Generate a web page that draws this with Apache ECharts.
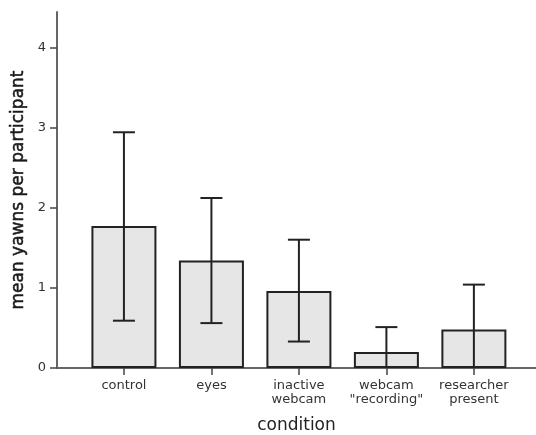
<!DOCTYPE html>
<html><head><meta charset="utf-8">
<script src="https://cdn.jsdelivr.net/npm/echarts@6/dist/echarts.min.js"></script>
<style>html,body{margin:0;padding:0;background:#fff}#c{width:536px;height:435px}</style>
</head><body><div id="c"></div>
<script>
const categories = ['control', 'eyes', 'inactive\nwebcam', 'webcam\n"recording"', 'researcher\npresent'];
const means = [1.77, 1.34, 0.96, 0.20, 0.48];
const errLow = [0.59, 0.56, 0.33, -0.11, -0.08];
const errHigh = [2.94, 2.12, 1.60, 0.51, 1.04];
const yTicks = [0, 1, 2, 3, 4];
const xPositions = categories.map((c, i) => i);

const chart = echarts.init(document.getElementById('c'));
const font = 'DejaVu Sans';
chart.setOption({
  animation: false,
  backgroundColor: '#fff',
  grid: {left: 57, right: 0, top: 12, bottom: 67, containLabel: false, outerBoundsMode: 'none'},
  xAxis: {
    type: 'value', min: -0.765, max: 4.71,
    name: 'condition', nameLocation: 'middle', nameGap: 49,
    nameTextStyle: {fontFamily: font, fontSize: 17, color: '#222'},
    axisLine: {show: true, onZero: false, lineStyle: {color: '#666', width: 2}},
    axisTick: {show: true, length: 7, lineStyle: {color: '#444', width: 1.5}, customValues: xPositions},
    axisLabel: {customValues: xPositions, fontFamily: font, fontSize: 13, color: '#333', margin: 11, lineHeight: 14,
      formatter: v => categories[Math.round(v)]},
    splitLine: {show: false}
  },
  yAxis: {
    type: 'value', min: 0, max: 4.44,
    name: 'mean yawns per participant', nameLocation: 'middle', nameGap: 27, nameRotate: 90,
    nameTextStyle: {fontFamily: font, fontSize: 17, color: '#1a1a1a', textBorderColor: '#1a1a1a', textBorderWidth: 0.5},
    axisLine: {show: true, onZero: false, lineStyle: {color: '#666', width: 2}},
    axisTick: {show: true, length: 7, lineStyle: {color: '#444', width: 1.5}, customValues: yTicks},
    axisLabel: {customValues: yTicks, fontFamily: font, fontSize: 13, color: '#333', margin: 11},
    splitLine: {show: false}
  },
  series: [{
    type: 'bar',
    data: means.map((m, i) => [xPositions[i], m]),
    barWidth: 65,
    itemStyle: {color: '#e6e6e6', borderColor: '#222', borderWidth: 2},
    z: 2
  }, {
    type: 'custom',
    data: means.map((m, i) => [xPositions[i], errLow[i], errHigh[i]]),
    renderItem: (params, api) => {
      const x = api.value(0);
      const lo = api.value(1), hi = api.value(2);
      const pHi = api.coord([x, hi]);
      const pLo = api.coord([x, Math.max(lo, 0)]);
      const cap = 11;
      const children = [
        {type: 'line', shape: {x1: pHi[0], y1: pHi[1], x2: pLo[0], y2: pLo[1]}, style: {stroke: '#222', lineWidth: 2}},
        {type: 'line', shape: {x1: pHi[0] - cap, y1: pHi[1], x2: pHi[0] + cap, y2: pHi[1]}, style: {stroke: '#222', lineWidth: 2}}
      ];
      if (lo >= 0) children.push({type: 'line', shape: {x1: pLo[0] - cap, y1: pLo[1], x2: pLo[0] + cap, y2: pLo[1]}, style: {stroke: '#222', lineWidth: 2}});
      return {type: 'group', children};
    },
    z: 3
  }]
});
</script></body></html>
